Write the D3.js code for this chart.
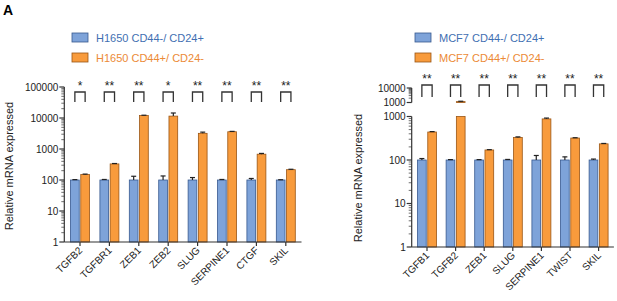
<!DOCTYPE html>
<html>
<head>
<meta charset="utf-8">
<script src="https://cdn.jsdelivr.net/npm/d3@7"></script>
<style>
  body { margin: 0; background: #fff; }
  text { font-family: "Liberation Sans", Arial, sans-serif; }
</style>
</head>
<body>
<svg id="chart" width="617" height="301"></svg>
<script>
// Panel 1 : H1650
let cats1 = ['TGFB2', 'TGFBR1', 'ZEB1', 'ZEB2', 'SLUG', 'SERPINE1', 'CTGF', 'SKIL'];
let blue1 = [100, 100, 100, 100, 100, 100, 100, 100];
let blueTop1 = [103, 104, 132, 135, 120, 104, 112, 102];
let orange1 = [150, 330, 12000, 11500, 3200, 3600, 680, 215];
let orangeTop1 = [155, 340, 12300, 14500, 3500, 3700, 720, 222];
let stars1 = ['*', '**', '**', '*', '**', '**', '**', '**'];
let legend1 = ['H1650 CD44-/ CD24+', 'H1650 CD44+/ CD24-'];

// Panel 2 : MCF7
let cats2 = ['TGFB1', 'TGFB2', 'ZEB1', 'SLUG', 'SERPINE1', 'TWIST', 'SKIL'];
let blue2 = [100, 100, 100, 100, 100, 100, 100];
let blueTop2 = [108, 102, 102, 103, 127, 118, 105];
let orange2 = [440, 1150, 170, 330, 880, 320, 235];
let orangeTop2 = [450, 1220, 173, 340, 920, 325, 240];
let stars2 = ['**', '**', '**', '**', '**', '**', '**'];
let legend2 = ['MCF7 CD44-/ CD24+', 'MCF7 CD44+/ CD24-'];

let yTicks1 = [1, 10, 100, 1000, 10000, 100000];
let yTicks2 = [1, 10, 100, 1000];
let yTicks2Top = [1000, 10000];

let BLUE = '#7ea3d9', BLUE_DARK = '#37598f', BLUE_TEXT = '#3f6fb2';
let ORANGE = '#f89b3c', ORANGE_DARK = '#9a5514', ORANGE_TEXT = '#ec8a36';
let AXIS = '#333';

let svg = d3.select('#chart');

svg.append('text').text('A')
    .attr('x', 3).attr('y', 15)
    .attr('font-size', 14).attr('font-weight', 'bold');

// log axis with minor ticks
function logAxis(g, scale, x, majors) {
  let [lo, hi] = scale.domain();
  g.append('line')
      .attr('x1', x).attr('x2', x)
      .attr('y1', scale(lo)).attr('y2', scale(hi))
      .attr('stroke', AXIS).attr('stroke-width', 1.2);
  for (let p = lo; p < hi; p *= 10) {
    for (let m = 2; m < 10; m++) {
      g.append('line')
          .attr('x1', x - 3).attr('x2', x)
          .attr('y1', scale(p * m)).attr('y2', scale(p * m))
          .attr('stroke', AXIS).attr('stroke-width', 0.7);
    }
  }
  majors.forEach(v => {
    g.append('line')
        .attr('x1', x - 5).attr('x2', x)
        .attr('y1', scale(v)).attr('y2', scale(v))
        .attr('stroke', AXIS).attr('stroke-width', 1.2);
    g.append('text').text(v)
        .attr('x', x - 6).attr('y', scale(v) + 3.5)
        .attr('text-anchor', 'end').attr('font-size', 10).attr('fill', '#222');
  });
}

function drawPanel(opt) {
  let g = svg.append('g');
  let x = d3.scaleBand().domain(opt.cats).range(opt.xRange);
  let sub = d3.scaleBand().domain(['b', 'o']).range([-10, 10]).paddingInner(0.15).paddingOuter(0.05);
  let bw = sub.bandwidth();
  let y = opt.y;
  let base = y.range()[0];

  // legend
  opt.legend.forEach((t, i) => {
    let ly = opt.legendY + i * 20;
    g.append('rect')
        .attr('x', opt.legendX).attr('y', ly)
        .attr('width', 16).attr('height', 9)
        .attr('fill', i ? ORANGE : BLUE)
        .attr('stroke', i ? ORANGE_DARK : BLUE_DARK).attr('stroke-width', 0.8);
    g.append('text').text(t)
        .attr('x', opt.legendX + 24).attr('y', ly + 9)
        .attr('font-size', 11).attr('fill', i ? ORANGE_TEXT : BLUE_TEXT);
  });

  // bars
  let series = [
    {key: 'b', vals: opt.blue, tops: opt.blueTop, fill: BLUE, stroke: BLUE_DARK},
    {key: 'o', vals: opt.orange, tops: opt.orangeTop, fill: ORANGE, stroke: ORANGE_DARK}
  ];
  series.forEach(s => {
    opt.cats.forEach((c, i) => {
      let cx = x(c) + x.bandwidth() / 2 + sub(s.key);
      let v = s.vals[i], top = s.tops[i];
      let yTopPx, errPx;
      if (opt.yUpper && v > opt.y.domain()[1]) {
        // broken axis: lower part clipped, upper part drawn on upper scale
        g.append('rect')
            .attr('x', cx).attr('y', y.range()[1])
            .attr('width', bw).attr('height', base - y.range()[1])
            .attr('fill', s.fill).attr('stroke', s.stroke).attr('stroke-width', 0.8);
        let yu = opt.yUpper;
        yTopPx = yu(v);
        errPx = yu(top);
        g.append('rect')
            .attr('x', cx).attr('y', yTopPx)
            .attr('width', bw).attr('height', yu.range()[0] - yTopPx)
            .attr('fill', s.fill).attr('stroke', s.stroke).attr('stroke-width', 0.8);
      } else {
        yTopPx = y(v);
        errPx = y(top);
        g.append('rect')
            .attr('x', cx).attr('y', yTopPx)
            .attr('width', bw).attr('height', base - yTopPx)
            .attr('fill', s.fill).attr('stroke', s.stroke).attr('stroke-width', 0.8);
      }
      let mid = cx + bw / 2;
      g.append('line')
          .attr('x1', mid).attr('x2', mid).attr('y1', yTopPx).attr('y2', errPx)
          .attr('stroke', '#222').attr('stroke-width', 1.2);
      g.append('line')
          .attr('x1', mid - 2.5).attr('x2', mid + 2.5).attr('y1', errPx).attr('y2', errPx)
          .attr('stroke', '#222').attr('stroke-width', 1.2);
    });
  });

  // significance brackets
  opt.cats.forEach((c, i) => {
    let c0 = x(c) + x.bandwidth() / 2;
    let xb = c0 + sub('b') + bw / 2;
    let xo = c0 + sub('o') + bw / 2;
    g.append('path')
        .attr('d', `M${xb},${opt.brBottom}V${opt.brTop}H${xo}V${opt.brBottom}`)
        .attr('fill', 'none').attr('stroke', AXIS).attr('stroke-width', 1.3);
    g.append('text').text(opt.stars[i])
        .attr('x', (xb + xo) / 2).attr('y', opt.brTop - 2)
        .attr('text-anchor', 'middle').attr('font-size', 12)
        .attr('fill', '#222');
  });

  // axes
  let axisX = opt.xRange[0] - 1;
  logAxis(g, y, axisX, opt.yTicks);
  if (opt.yUpper) logAxis(g, opt.yUpper, axisX, opt.yTicksTop);

  g.append('line')
      .attr('x1', axisX).attr('x2', opt.xRange[1] + 1)
      .attr('y1', base).attr('y2', base)
      .attr('stroke', AXIS).attr('stroke-width', 1.2);
  opt.cats.forEach(c => {
    let cx = x(c) + x.bandwidth() / 2;
    g.append('line')
        .attr('x1', cx).attr('x2', cx).attr('y1', base).attr('y2', base + 4)
        .attr('stroke', AXIS).attr('stroke-width', 1.2);
    g.append('text').text(c)
        .attr('transform', `translate(${cx + 3},${base + 9}) rotate(-45)`)
        .attr('text-anchor', 'end').attr('font-size', 10).attr('fill', '#222');
  });

  g.append('text').text('Relative mRNA expressed')
      .attr('transform', `translate(${opt.labelX},${opt.labelY}) rotate(-90)`)
      .attr('text-anchor', 'middle').attr('font-size', 11).attr('fill', '#222');
}

drawPanel({
  cats: cats1, blue: blue1, blueTop: blueTop1, orange: orange1, orangeTop: orangeTop1,
  stars: stars1, legend: legend1,
  xRange: [65.3, 300.5],
  y: d3.scaleLog().domain([1, 100000]).range([242, 87]),
  yTicks: yTicks1,
  legendX: 72, legendY: 33,
  brTop: 92, brBottom: 102,
  labelX: 13, labelY: 166
});

drawPanel({
  cats: cats2, blue: blue2, blueTop: blueTop2, orange: orange2, orangeTop: orangeTop2,
  stars: stars2, legend: legend2,
  xRange: [412.7, 612.9],
  y: d3.scaleLog().domain([1, 1000]).range([247, 116.5]),
  yUpper: d3.scaleLog().domain([1000, 10000]).range([102.5, 88]),
  yTicks: yTicks2, yTicksTop: yTicks2Top,
  legendX: 415, legendY: 33,
  brTop: 85, brBottom: 97,
  labelX: 362, labelY: 178
});
</script>
</body>
</html>
